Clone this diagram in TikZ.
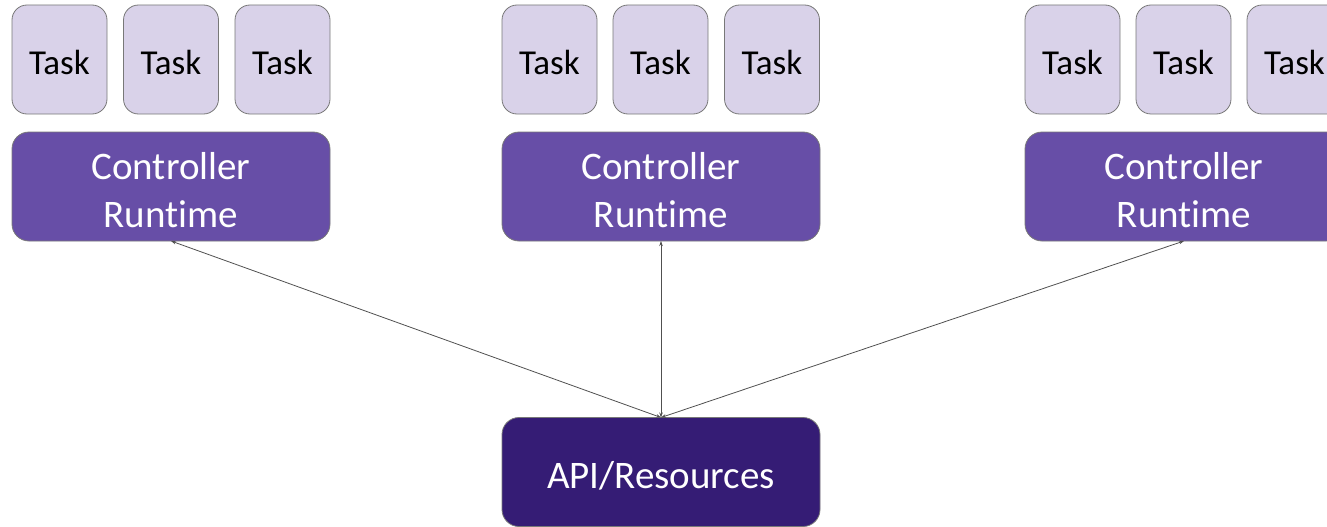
\documentclass[tikz,border=0pt]{standalone}
\usepackage{fontspec}
\setmainfont{Carlito}[Ligatures=NoCommon]
\usetikzlibrary{arrows.meta,positioning}

\definecolor{tasklav}{RGB}{217,210,233}
\definecolor{ctrlpurple}{RGB}{103,78,167}
\definecolor{apipurple}{RGB}{53,28,117}
\definecolor{edgegray}{RGB}{120,120,120}
\definecolor{linkgray}{RGB}{80,80,80}

\begin{document}
\begin{tikzpicture}[x=1pt,y=-1pt,
			task/.style={draw=edgegray, line width=0.8pt, fill=tasklav, rounded corners=15pt, minimum width=95pt, minimum height=109pt, inner sep=0pt, outer sep=0pt, text height=30pt, text depth=0pt, font=\fontsize{35}{42}\selectfont},
			ctrl/.style={draw=edgegray, line width=0.8pt, fill=ctrlpurple, text=white, rounded corners=17pt, minimum width=318pt, minimum height=109pt, inner sep=0pt, outer sep=0pt, align=center, text height=81pt, text depth=0pt, font=\fontsize{39}{48}\selectfont},
			api/.style={ctrl, fill=apipurple, text height=33pt, text depth=0pt},
			link/.style={draw=linkgray, line width=0.8pt, {Stealth[length=5pt,width=3.5pt]}-{Stealth[length=5pt,width=3.5pt]}}]
			\useasboundingbox (0,0) rectangle (1327,527);
			% left group
			\node[task] (t11) at (59.5,59.5) {Task};
			\node[task] (t12) at (171,59.5) {Task};
			\node[task] (t13) at (282.5,59.5) {Task};
			\node[ctrl] (c1) at (171,186.5) {Controller\\Runtime};
			% middle group
			\node[task] (t21) at (549.5,59.5) {Task};
			\node[task] (t22) at (660.5,59.5) {Task};
			\node[task] (t23) at (772,59.5) {Task};
			\node[ctrl] (c2) at (661,186.5) {Controller\\Runtime};
			% right group
			\node[task] (t31) at (1072.5,59.5) {Task};
			\node[task] (t32) at (1183.5,59.5) {Task};
			\node[task] (t33) at (1294.5,59.5) {Task};
			\node[ctrl] (c3) at (1184,186.5) {Controller\\Runtime};
			% shared store
			\node[api] (api) at (661,472) {API/Resources};
			\draw[link] (api.north) -- (c1.south);
			\draw[link] (api.north) -- (c2.south);
			\draw[link] (api.north) -- (c3.south);
		\end{tikzpicture}
\end{document}
